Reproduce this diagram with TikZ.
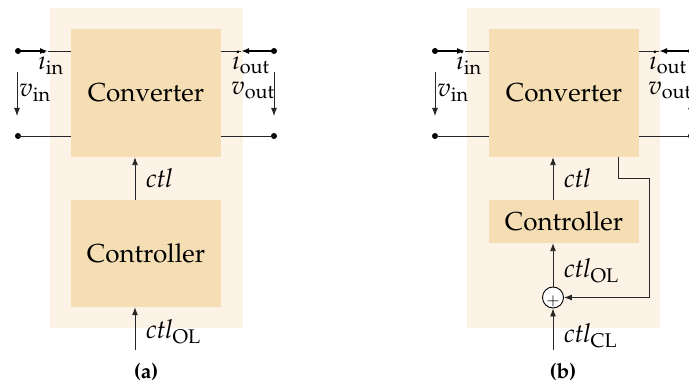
\documentclass[tikz,border=0pt]{standalone}
\usepackage[T1]{fontenc}
\usepackage{mathpazo}
\renewcommand{\rmdefault}{ppl}
\renewcommand{\bfdefault}{b}
\usetikzlibrary{arrows.meta}
\definecolor{bgcream}{HTML}{FCF3E6}
\definecolor{boxwheat}{HTML}{F5DEB3}
\tikzset{
  bgbox/.style={fill=bgcream,draw=none},
  blockbox/.style={fill=boxwheat,draw=none,font=\fontsize{26}{30}\selectfont},
  wire/.style={line width=0.9pt,black!85},
  thinarr/.style={line width=0.9pt,black!85,-{Latex[length=8pt,width=6pt]}},
  currarr/.style={line width=1.7pt,black,-{Latex[length=8pt,width=6pt]}},
  termdot/.style={circle,fill=black,inner sep=0pt,minimum size=6pt},
  lbl/.style={inner sep=0pt,anchor=base west,font=\fontsize{26}{30}\selectfont},
  capt/.style={inner sep=0pt,font=\fontsize{21}{24}\selectfont\bfseries},
  sumnode/.style={circle,draw=black,line width=0.9pt,fill=white,minimum size=21pt,inner sep=0pt}
}
\begin{document}
\begin{tikzpicture}[x=1pt,y=-1pt]
\clip (0,0) rectangle (689,385);
\useasboundingbox (0,0) rectangle (689,385);
% ---------------- panel (a) ----------------
\fill[bgcream] (50,8) rectangle (243,328);
\node[blockbox,minimum width=150pt,minimum height=128pt] (convA) at (146,93) {Converter};
\node[blockbox,minimum width=150pt,minimum height=107pt] (ctrlA) at (146,253.5) {Controller};
% terminals
\node[termdot] (aTL) at (18,51) {};
\node[termdot] (aBL) at (18,136) {};
\node[termdot] (aTR) at (274,51) {};
\node[termdot] (aBR) at (274,136) {};
\coordinate (aIinTip) at (48,51);
\coordinate (aIoutTip) at (241,51);
\draw[wire] (aIinTip) -- (convA.west |- aIinTip);
\draw[wire] (aIoutTip) -- (convA.east |- aIoutTip);
\draw[currarr] (aTL.center) -- (aIinTip);
\draw[currarr] (aTR.center) -- (aIoutTip);
\draw[wire] (aBL.center) -- (convA.west |- aBL);
\draw[wire] (aBR.center) -- (convA.east |- aBR);
\coordinate (aVinS) at (17,72);
\coordinate (aVinE) at (17,116);
\coordinate (aVoutS) at (274,72);
\coordinate (aVoutE) at (274,116);
\draw[thinarr] (aVinS) -- (aVinE);
\draw[thinarr] (aVoutS) -- (aVoutE);
\node[lbl] (aIin) at (38,70) {$i_{\mathrm{in}}$};
\node[lbl] (aVin) at (19,97) {$v_{\mathrm{in}}$};
\node[lbl] (aIout) at (232,70) {$i_{\mathrm{out}}$};
\node[lbl] (aVout) at (231,95) {$v_{\mathrm{out}}$};
% control
\coordinate (aCtlX) at (135,0);
\draw[thinarr] (aCtlX |- ctrlA.north) -- (aCtlX |- convA.south);
\coordinate (aOLs) at (135,350);
\draw[thinarr] (aOLs) -- (aCtlX |- ctrlA.south);
\node[lbl] (aCtl) at (146,188) {$\mathit{ctl}$};
\node[lbl] (aOL) at (146,338) {$\mathit{ctl}_{\mathrm{OL}}$};
\node[capt] (capA) at (146,372) {(a)};
% ---------------- panel (b) ----------------
\fill[bgcream] (467,8) rectangle (660,328);
\node[blockbox,minimum width=150pt,minimum height=128pt] (convB) at (564,93) {Converter};
\node[blockbox,minimum width=150pt,minimum height=43pt] (ctrlB) at (564,221.5) {Controller};
\node[termdot] (bTL) at (435,51) {};
\node[termdot] (bBL) at (435,136) {};
\node[termdot] (bTR) at (691,51) {};
\node[termdot] (bBR) at (691,136) {};
\coordinate (bIinTip) at (465,51);
\coordinate (bIoutTip) at (659,51);
\draw[wire] (bIinTip) -- (convB.west |- bIinTip);
\draw[wire] (bIoutTip) -- (convB.east |- bIoutTip);
\draw[currarr] (bTL.center) -- (bIinTip);
\draw[currarr] (bTR.center) -- (bIoutTip);
\draw[wire] (bBL.center) -- (convB.west |- bBL);
\draw[wire] (bBR.center) -- (convB.east |- bBR);
\coordinate (bVinS) at (435,72);
\coordinate (bVinE) at (435,116);
\coordinate (bVoutS) at (691,72);
\coordinate (bVoutE) at (691,116);
\draw[thinarr] (bVinS) -- (bVinE);
\draw[thinarr] (bVoutS) -- (bVoutE);
\node[lbl] (bIin) at (456,70) {$i_{\mathrm{in}}$};
\node[lbl] (bVin) at (437,97) {$v_{\mathrm{in}}$};
\node[lbl] (bIout) at (649,70) {$i_{\mathrm{out}}$};
\node[lbl] (bVout) at (648,95) {$v_{\mathrm{out}}$};
% control loop
\coordinate (bCtlX) at (553,0);
\draw[thinarr] (bCtlX |- ctrlB.north) -- (bCtlX |- convB.south);
\node[sumnode] (sum) at (553,297.5) {};
\node[inner sep=0pt,font=\fontsize{16}{16}\selectfont] (plus) at (553,301) {$+$};
\draw[thinarr] (sum.north) -- (bCtlX |- ctrlB.south);
\coordinate (bCLs) at (553,350);
\draw[thinarr] (bCLs) -- (sum.south);
\coordinate (fbA) at (618,178);
\coordinate (fbB) at (649,178);
\coordinate (fbC) at (649,297.5);
\draw[thinarr] (fbA |- convB.south) -- (fbA) -- (fbB) -- (fbC) -- (sum.east);
\node[lbl] (bCtl) at (564,188) {$\mathit{ctl}$};
\node[lbl] (bOL) at (564,277) {$\mathit{ctl}_{\mathrm{OL}}$};
\node[lbl] (bCL) at (564,342) {$\mathit{ctl}_{\mathrm{CL}}$};
\node[capt] (capB) at (563,372) {(b)};
\end{tikzpicture}
\end{document}
